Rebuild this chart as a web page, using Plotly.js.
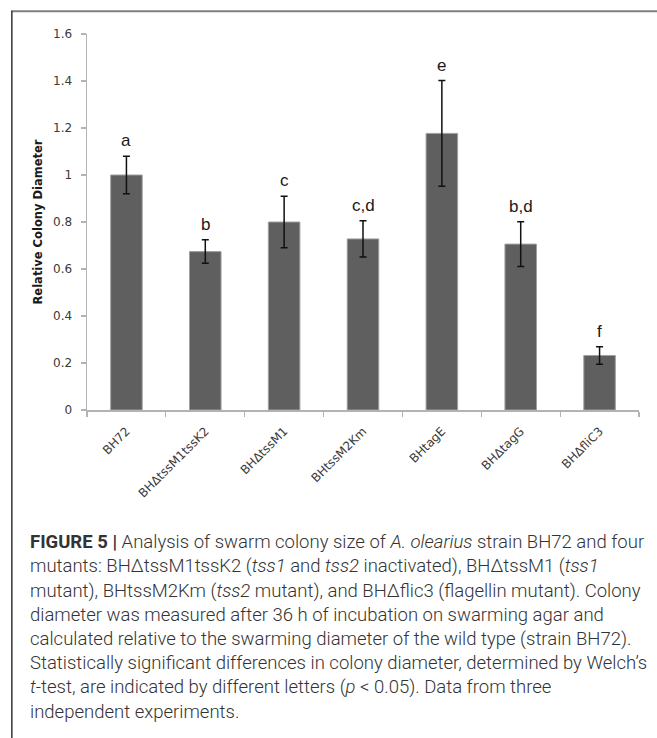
<!DOCTYPE html>
<html>
<head>
<meta charset="utf-8">
<script src="https://cdn.plot.ly/plotly-3.0.1.min.js"></script>
<style>
html,body{margin:0;padding:0;background:#fff;}
#chart{width:657px;height:738px;}
</style>
</head>
<body>
<div id="chart"></div>
<script>
// ---- data ----
const categories = ['BH72', 'BHΔtssM1tssK2', 'BHΔtssM1', 'BHtssM2Km', 'BHtagE', 'BHΔtagG', 'BHΔfliC3'];
const values = [1.0, 0.674, 0.80, 0.728, 1.177, 0.706, 0.232];
const errors = [0.08, 0.05, 0.11, 0.077, 0.225, 0.095, 0.037];
const letters = ['a', 'b', 'c', 'c,d', 'e', 'b,d', 'f'];
const yTickVals = [0, 0.2, 0.4, 0.6, 0.8, 1, 1.2, 1.4, 1.6];
const yTickText = ['0', '0.2', '0.4', '0.6', '0.8', '1', '1.2', '1.4', '1.6'];
const captionLines = [
  '<b>FIGURE 5 |</b> Analysis of swarm colony size of <i>A. olearius</i> strain BH72 and four',
  'mutants: BHΔtssM1tssK2 (<i>tss1</i> and <i>tss2</i> inactivated), BHΔtssM1 (<i>tss1</i>',
  'mutant), BHtssM2Km (<i>tss2</i> mutant), and BHΔflic3 (flagellin mutant). Colony',
  'diameter was measured after 36 h of incubation on swarming agar and',
  'calculated relative to the swarming diameter of the wild type (strain BH72).',
  'Statistically significant differences in colony diameter, determined by Welch’s',
  '<i>t</i>-test, are indicated by different letters (<i>p</i> &lt; 0.05). Data from three',
  'independent experiments.'
];

// ---- layout geometry (pixels) ----
const FW = 657, FH = 738;
const L = 86.7, R = 639, T = 34.3, B = 410;
const PW = R - L, PH = B - T;
const px = v => (v - L) / PW;
const py = v => 1 - (v - T) / PH;

const tickFont = {family: '"DejaVu Sans", sans-serif', size: 12, color: '#3a3a3a'};

const annotations = [];
categories.forEach((c, i) => {
  annotations.push({
    x: c, y: values[i] + errors[i], xref: 'x', yref: 'y',
    text: letters[i], showarrow: false, yanchor: 'bottom', yshift: 4,
    font: {family: '"Liberation Sans", Arial, sans-serif', size: 17, color: '#1a1a1a'}
  });
});
const capX = 28, capY0 = 542, capDY = 24.2;
captionLines.forEach((t, i) => {
  annotations.push({
    x: px(capX), y: py(capY0 + i * capDY), xref: 'paper', yref: 'paper',
    xanchor: 'left', yanchor: 'middle', align: 'left', showarrow: false,
    text: t,
    font: {family: 'Roboto, "Liberation Sans", sans-serif', size: 18.5, color: '#333333', weight: 300}
  });
});

const shapes = [
  {type: 'line', xref: 'paper', yref: 'paper', x0: px(11), x1: px(FW), y0: py(11.5), y1: py(11.5),
   line: {color: '#7f7f7f', width: 2}},
  {type: 'line', xref: 'paper', yref: 'paper', x0: px(11.5), x1: px(11.5), y0: py(11), y1: py(FH),
   line: {color: '#333333', width: 1.5}}
];

const trace = {
  type: 'bar',
  x: categories,
  y: values,
  marker: {color: '#5f5f5f', line: {color: '#a0a0a0', width: 1}},
  error_y: {type: 'data', array: errors, visible: true, color: '#111111', thickness: 1.5, width: 3.5},
  hoverinfo: 'skip'
};

const layout = {
  width: FW, height: FH,
  margin: {l: L, r: FW - R, t: T, b: FH - B, pad: 0},
  paper_bgcolor: '#ffffff', plot_bgcolor: '#ffffff',
  showlegend: false,
  bargap: 0.6,
  xaxis: {
    type: 'category', showgrid: false, zeroline: false,
    showline: true, linecolor: '#b3b3b3', linewidth: 1.5,
    ticks: 'outside', ticklen: 5, tickcolor: '#b3b3b3', tickwidth: 1.2,
    tickson: 'boundaries', tickangle: -45, tickfont: tickFont,
    ticklabelstandoff: 8,
    range: [-0.5, categories.length - 0.5]
  },
  yaxis: {
    range: [0, 1.6], showgrid: false, zeroline: false,
    showline: true, linecolor: '#b3b3b3', linewidth: 1.5,
    ticks: 'outside', ticklen: 5, tickcolor: '#b3b3b3', tickwidth: 1.2,
    tickvals: yTickVals, ticktext: yTickText, tickfont: tickFont,
    ticklabelstandoff: 6,
    title: {text: '<b>Relative Colony Diameter</b>', standoff: 8,
            font: {family: '"DejaVu Sans", sans-serif', size: 11.5, color: '#1a1a1a'}}
  },
  annotations: annotations,
  shapes: shapes
};

Plotly.newPlot('chart', [trace], layout, {displayModeBar: false, staticPlot: true});
</script>
</body>
</html>
